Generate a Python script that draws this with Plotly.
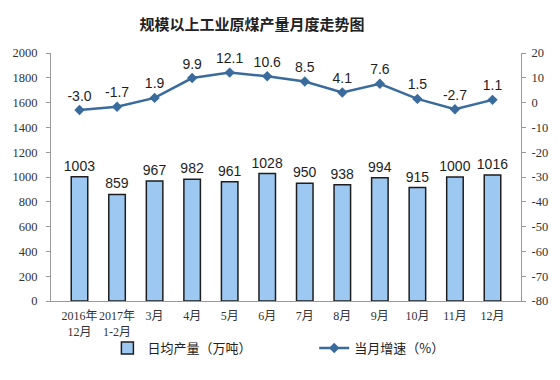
import plotly.graph_objects as go

categories = ["2016年<br>12月", "2017年<br>1-2月", "3月", "4月", "5月", "6月", "7月", "8月", "9月", "10月", "11月", "12月"]
daily_output = [1003, 859, 967, 982, 961, 1028, 950, 938, 994, 915, 1000, 1016]
growth = [-3.0, -1.7, 1.9, 9.9, 12.1, 10.6, 8.5, 4.1, 7.6, 1.5, -2.7, 1.1]
left_ticks = [0, 200, 400, 600, 800, 1000, 1200, 1400, 1600, 1800, 2000]
right_ticks = [-80, -70, -60, -50, -40, -30, -20, -10, 0, 10, 20]

fig = go.Figure()
fig.add_trace(go.Bar(
    x=categories, y=daily_output, name="日均产量（万吨）",
    marker=dict(color="#9DC8F2", line=dict(color="#1E1E1E", width=1.5)),
    width=0.44,
    text=[str(v) for v in daily_output], textposition="outside", constraintext="none",
    textfont=dict(family="Liberation Sans, Arial", size=14, color="#1E1E1E"),
    cliponaxis=False, legend="legend",
))
fig.add_trace(go.Scatter(
    x=categories, y=growth, name="当月增速（%）", yaxis="y2",
    mode="lines+markers+text",
    line=dict(color="#3A6B9D", width=2.5),
    marker=dict(symbol="diamond", size=8, color="#3A6B9D"),
    text=[f"{v:.1f}" for v in growth], textposition="top center",
    textfont=dict(family="Liberation Sans, Arial", size=14, color="#1E1E1E"),
    cliponaxis=False, legend="legend2",
))

tickfont = dict(family="Liberation Serif, Noto Sans CJK SC", size=12.5, color="#333")
xtickfont = dict(family="Liberation Serif, Noto Sans CJK SC", size=12, color="#333")
legfont = dict(family="Noto Sans CJK SC", size=13, color="#222")
fig.update_layout(
    width=560, height=380,
    margin=dict(l=40, r=35, t=53, b=79),
    paper_bgcolor="white", plot_bgcolor="white",
    title=dict(text="<b>规模以上工业原煤产量月度走势图</b>", x=0.45, xref="container", xanchor="center",
               y=0.935, yref="container", yanchor="middle",
               font=dict(family="Noto Sans CJK SC", size=15, color="#222")),
    xaxis=dict(showline=True, linecolor="#999", linewidth=1, ticks="", tickfont=xtickfont,
               showgrid=False, tickangle=0, ticklabelstandoff=4),
    yaxis=dict(range=[0, 2000], tickvals=left_ticks, ticktext=[str(t) for t in left_ticks],
               showline=True, linecolor="#999", linewidth=1,
               ticks="outside", ticklen=4, tickcolor="#999", showgrid=False, zeroline=False,
               tickfont=tickfont, ticklabelstandoff=6),
    yaxis2=dict(range=[-80, 20], tickvals=right_ticks, ticktext=[str(t) for t in right_ticks],
                overlaying="y", side="right", showline=True,
                linecolor="#999", linewidth=1, ticks="outside", ticklen=4, tickcolor="#999",
                showgrid=False, zeroline=False, tickfont=tickfont, ticklabelstandoff=3),
    showlegend=True,
    legend=dict(orientation="h", x=0.12, xanchor="left", y=-0.19, yanchor="middle",
                font=legfont, bgcolor="rgba(0,0,0,0)"),
    legend2=dict(orientation="h", x=0.56, xanchor="left", y=-0.19, yanchor="middle",
                 font=legfont, bgcolor="rgba(0,0,0,0)", itemwidth=30),
)
fig.write_html("out.html", config={"displayModeBar": False},
               post_script="document.body.style.margin='0';")
